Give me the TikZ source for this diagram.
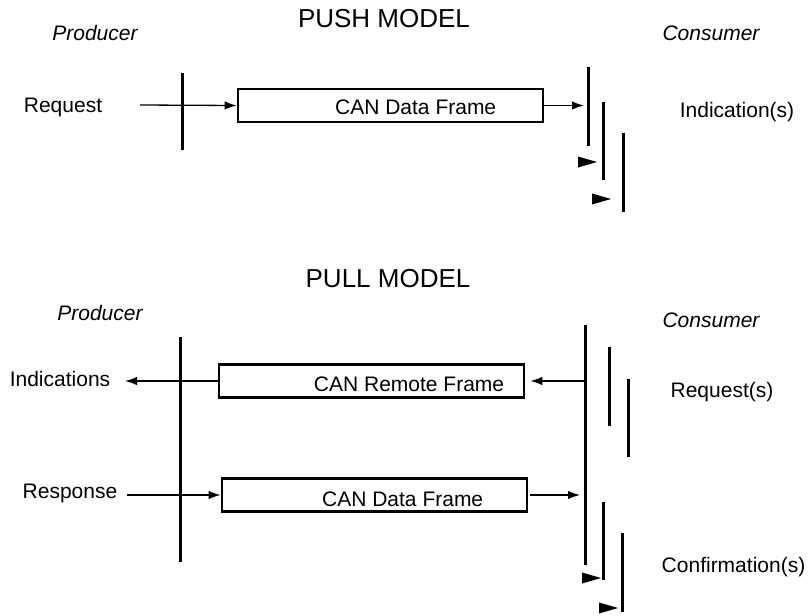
\documentclass[tikz,border=0pt]{standalone}
\usepackage{fontspec}
\setmainfont{Liberation Sans}
\usepackage{tikz}
\usetikzlibrary{arrows.meta,positioning,calc}

\begin{document}
\begin{tikzpicture}[
  x=1pt, y=-1pt,
  title/.style={font=\fontsize{26}{30}\selectfont, inner sep=0pt, text height=18.6pt, text depth=0pt},
  role/.style={font=\fontsize{21}{25}\selectfont\itshape, inner sep=0pt, text height=15pt, text depth=0pt},
  lbl/.style={font=\fontsize{21}{25}\selectfont, inner sep=0pt, text height=15pt, text depth=0pt},
  frame/.style={draw, line width=2.8pt, minimum width=305pt, minimum height=33pt, inner sep=0pt},
  timeline/.style={line width=3pt},
  msg/.style={-{Latex[length=12pt,width=8.5pt]}, line width=1.3pt},
  tip/.style={fill=black}
]
  \useasboundingbox (0,0) rectangle (809,616);
  % push model
  \node[title] (pushttl) at (384,18) {PUSH MODEL};
  \node[role] (pushprod) at (95,33) {Producer};
  \node[role] (pushcons) at (711,33) {Consumer};
  \node[lbl] (req) at (63,105) {Request};
  \node[lbl] (ind) at (737,110) {Indication(s)};
  \coordinate (pp1) at (182,73);  \coordinate (pp2) at (182,150);
  \coordinate (pc1) at (588,67);  \coordinate (pc2) at (588,146);
  \coordinate (pd1) at (603,102); \coordinate (pd2) at (603,180);
  \coordinate (pe1) at (623,133); \coordinate (pe2) at (623,212);
  \coordinate (reqin) at (140,105);
  \node[frame] (pushdata) at (390.5,105.5) {};
  \node[lbl, anchor=east] (pushdatalbl) at ($(pushdata.east)+(-48,1.5)$) {CAN Data Frame};
  \draw[timeline] (pp1) -- (pp2);
  \draw[timeline] (pc1) -- (pc2);
  \draw[timeline] (pd1) -- (pd2);
  \draw[timeline] (pe1) -- (pe2);
  \draw[msg] (reqin) -- (pushdata.west);
  \draw[msg, shorten >=4pt] (pushdata.east) -- (pushdata.east -| pc1);
  \fill[tip] (578,156.5) -- (597,162) -- (578,167.5) -- cycle;
  \fill[tip] (592,193.5) -- (611,199) -- (592,204.5) -- cycle;
  % pull model
  \node[title] (pullttl) at (388,278) {PULL MODEL};
  \node[role] (pullprod) at (100,313) {Producer};
  \node[role] (pullcons) at (711,320) {Consumer};
  \node[lbl] (inds) at (60,379) {Indications};
  \node[lbl] (resp) at (70,491) {Response};
  \node[lbl] (reqs) at (722,390) {Request(s)};
  \node[lbl] (conf) at (733.5,565) {Confirmation(s)};
  \coordinate (qp1) at (180,337); \coordinate (qp2) at (180,562);
  \coordinate (qc1) at (585,325); \coordinate (qc2) at (585,565);
  \coordinate (qd1) at (609,347); \coordinate (qd2) at (609,426);
  \coordinate (qe1) at (628,379); \coordinate (qe2) at (628,457);
  \coordinate (qf1) at (603,502); \coordinate (qf2) at (603,580);
  \coordinate (qg1) at (622,533); \coordinate (qg2) at (622,612);
  \coordinate (indsout) at (125,381);
  \coordinate (respin) at (127,495);
  \node[frame] (remote) at (371.5,381) {};
  \node[lbl, anchor=east] (remotelbl) at ($(remote.east)+(-21,3)$) {CAN Remote Frame};
  \node[frame] (pulldata) at (374.5,495) {};
  \node[lbl, anchor=east] (pulldatalbl) at ($(pulldata.east)+(-45,4)$) {CAN Data Frame};
  \draw[timeline] (qp1) -- (qp2);
  \draw[timeline] (qc1) -- (qc2);
  \draw[timeline] (qd1) -- (qd2);
  \draw[timeline] (qe1) -- (qe2);
  \draw[timeline] (qf1) -- (qf2);
  \draw[timeline] (qg1) -- (qg2);
  \draw[msg, shorten >=5pt] (remote.east -| qc1) -- (remote.east);
  \draw[msg] (remote.west) -- (remote.west -| indsout);
  \draw[msg] (respin) -- (pulldata.west);
  \draw[msg, shorten <=2pt, shorten >=5pt] (pulldata.east) -- (pulldata.east -| qc1);
  \fill[tip] (582,572.5) -- (601,578) -- (582,583.5) -- cycle;
  \fill[tip] (599,602.5) -- (618,608) -- (599,613.5) -- cycle;
\end{tikzpicture}
\end{document}
